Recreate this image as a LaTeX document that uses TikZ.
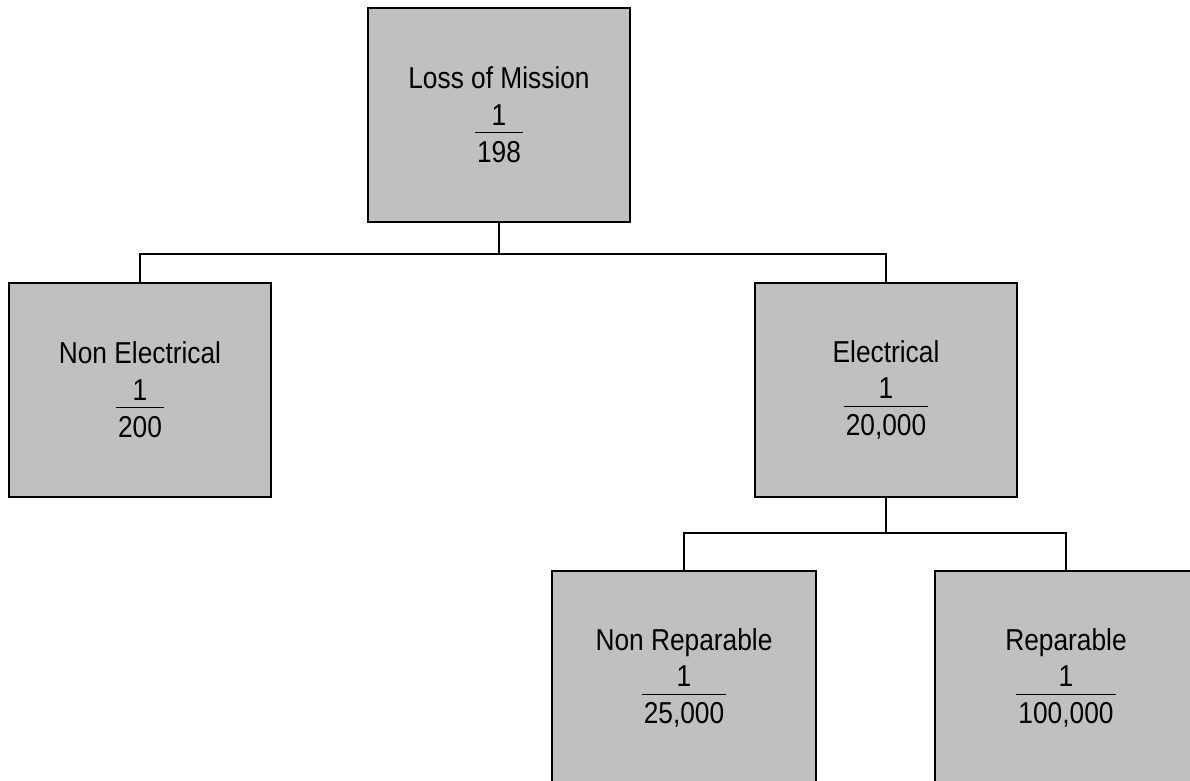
\documentclass[tikz,border=0pt]{standalone}
\usepackage{fontspec}
\setmainfont{Liberation Sans}[FakeStretch=0.87]
\usepackage{xcolor}
\usepackage{tikz}
\usetikzlibrary{positioning, shapes}
\definecolor{gris}{RGB}{192, 192, 192}
\setlength{\arrayrulewidth}{0.9pt}
\newcommand{\ratio}[2]{{\renewcommand{\arraystretch}{0.1}%
    \begin{tabular}[t]{@{\hspace{1.5pt}}c@{\hspace{1.5pt}}}\rule[-5pt]{0pt}{17pt}#1\\\hline\rule{0pt}{20.5pt}#2\end{tabular}}}
\tikzset{
    event/.style={draw, rectangle, fill=gris, draw=black, line width=1.1pt, minimum width=6.55cm, minimum height=5.35cm, align=center, inner sep=0pt, font=\fontsize{21.5}{26}\selectfont},
    conn/.style={-, black, line width=1pt},
}

\begin{document}
\begin{tikzpicture}[x=0.025cm, y=-0.025cm]
        \useasboundingbox (0,0) rectangle (1190,781);
        \clip (0,0) rectangle (1190,781);

        \node[event] (mission) at (499,115) {Loss of Mission\\\ratio{1}{198}};
        \node[event] (nonelec) at (140,390) {Non Electrical\\\ratio{1}{200}};
        \node[event] (elec) at (886,390) {Electrical\\\ratio{1}{20,000}};
        \node[event, minimum width=6.6cm] (nonrep) at (684,678) {Non Reparable\\\ratio{1}{25,000}};
        \node[event] (rep) at (1066,678) {Reparable\\\ratio{1}{100,000}};

        \coordinate (split1) at (499,254);
        \coordinate (split2) at (886,533);

        \draw[conn] (mission.south) -- (split1);
        \draw[conn] (split1) -| (nonelec.north);
        \draw[conn] (split1) -| (elec.north);

        \draw[conn] (elec.south) -- (split2);
        \draw[conn] (split2) -| (nonrep.north);
        \draw[conn] (split2) -| (rep.north);
\end{tikzpicture}
\end{document}
